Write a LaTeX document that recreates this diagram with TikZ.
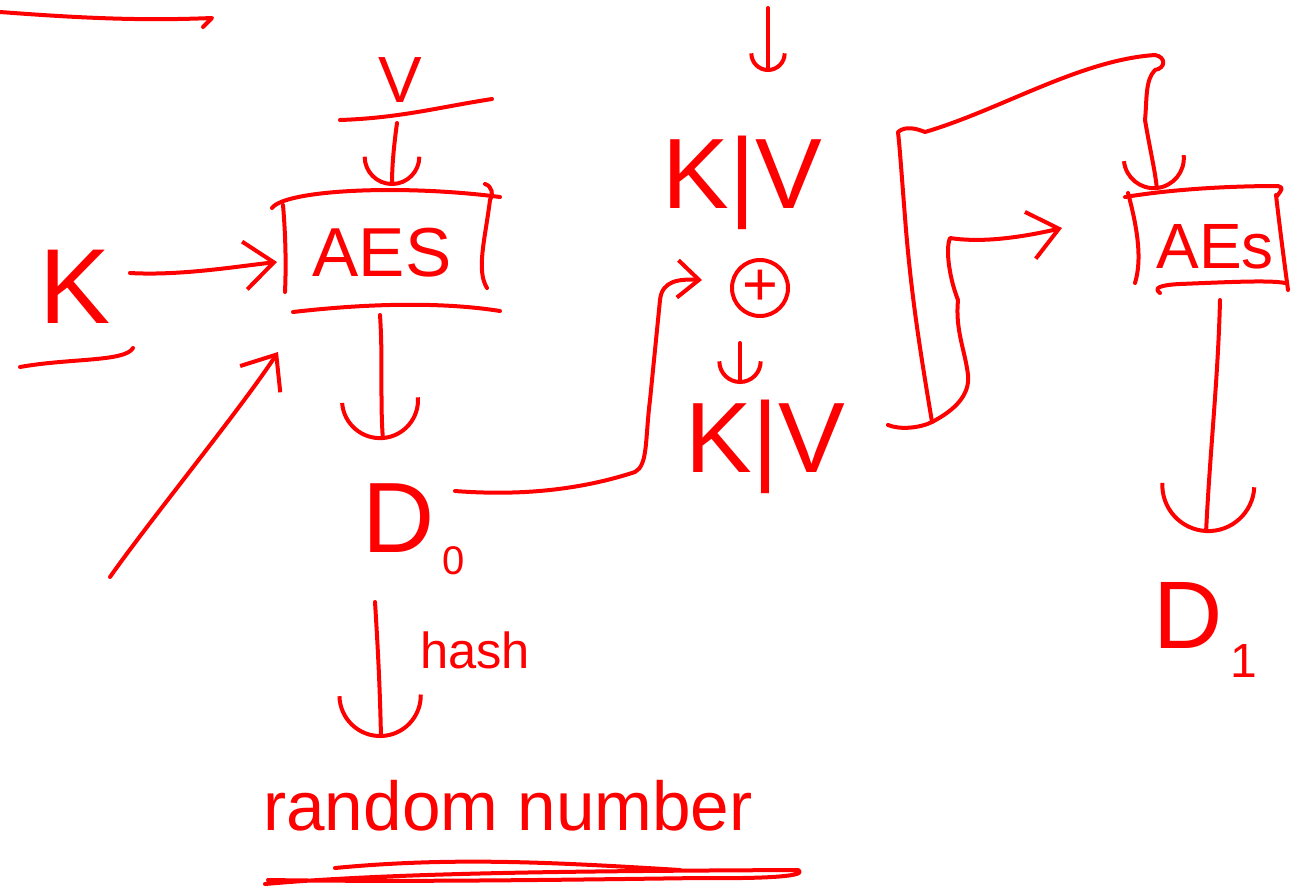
\documentclass[tikz,border=0pt]{standalone}
\usepackage{fontspec}
\setmainfont{Liberation Sans}
\usetikzlibrary{arrows.meta}
\tikzset{
  stroke/.style={draw=red, line width=3pt, line cap=round, line join=round},
  txt/.style={text=red, inner sep=0pt, anchor=base},
  ubarb/.style={-{Arc Barb[length=#1, width=2*#1]}},
  ubarb/.default=24pt,
  vbarb/.style={-{Straight Barb[length=22pt, width=36pt]}},
}
\begin{document}
\begin{tikzpicture}[x=0.75pt, y=-0.75pt]
\useasboundingbox (0,0) rectangle (1298,889);

% ---------- text nodes ----------
\node[txt, font=\fontsize{49}{49}\selectfont] (v) at (400,102) {V};
\node[txt, font=\fontsize{80}{80}\selectfont] (k) at (75,323) {K};
\node[txt, font=\fontsize{52}{52}\selectfont] (aes1) at (382,276) {AES};
\node[txt, font=\fontsize{75}{75}\selectfont] (kvtop) at (742,208) {K|V};
\node[draw=red, line width=3pt, circle, minimum size=42pt, inner sep=0pt, text=red,
      font=\fontsize{46}{46}\selectfont] (xor) at (760,288) {+};
\node[txt, font=\fontsize{75}{75}\selectfont] (kvbot) at (765,472) {K|V};
\node[txt, anchor=base west, font=\fontsize{75}{75}\selectfont] (d0) at (362,552)
  {D\hspace{6pt}\raisebox{-17pt}{\fontsize{30}{30}\selectfont 0}};
\node[txt, anchor=base west, font=\fontsize{38}{38}\selectfont] (hash) at (420,668) {hash};
\node[txt, font=\fontsize{52}{52}\selectfont] (rnd) at (508,830) {random number};
\node[txt, font=\fontsize{48}{48}\selectfont] (aes2) at (1215,268) {AEs};
\node[txt, anchor=base west, font=\fontsize{72}{72}\selectfont] (d1) at (1153,648)
  {D\hspace{6pt}\raisebox{-22pt}{\fontsize{36}{36}\selectfont 1}};

% ---------- named points ----------
\coordinate (vline) at (397,123);
\coordinate (aes1top) at (392,186);
\coordinate (kout) at (130,273);
\coordinate (aes1left) at (277,262);
\coordinate (diagstart) at (110,577);
\coordinate (aes1corner) at (278,352);
\coordinate (aes1bot) at (380,315);
\coordinate (d0top) at (383,440);
\coordinate (d0right) at (455,491);
\coordinate (xorin) at (702,280);
\coordinate (d0bot) at (375,602);
\coordinate (rndtop) at (381,738);
\coordinate (topin) at (768,8);
\coordinate (kvtopin) at (768,72);
\coordinate (xorout) at (740,343);
\coordinate (kvbotin) at (740,384);
\coordinate (kvbotout) at (888,425);
\coordinate (join) at (932,422);
\coordinate (aes2left) at (1062,228);
\coordinate (aes2top) at (1157,190);
\coordinate (aes2bot) at (1220,300);
\coordinate (d1top) at (1206,533);

% ---------- loose strokes ----------
\draw[stroke] (0,12) .. controls (80,18) and (140,21) .. (212,18) -- (203,27);
\draw[stroke] (340,120) .. controls (400,118) and (440,107) .. (492,99);
\draw[stroke] (20,367) .. controls (70,358) and (125,362) .. (133,348);

% AES 1 box
\draw[stroke] (272,208) .. controls (285,190) and (400,184) .. (500,197);
\draw[stroke] (485,184) .. controls (492,186) and (494,195) .. (490,200);
\draw[stroke] (283,205) .. controls (286,240) and (286,270) .. (285,292);
\draw[stroke] (490,200) .. controls (485,240) and (476,270) .. (487,288);
\draw[stroke] (293,312) .. controls (380,302) and (450,303) .. (500,311);

% AES 2 box
\draw[stroke] (1125,197) .. controls (1180,188) and (1240,186) .. (1278,186) .. controls (1283,188) .. (1277,196);
\draw[stroke] (1128,193) .. controls (1138,230) and (1142,260) .. (1135,283);
\draw[stroke] (1276,195) .. controls (1280,230) and (1284,260) .. (1288,290);
\draw[stroke] (1160,293) .. controls (1153,288) and (1160,285) .. (1180,284) .. controls (1230,282) and (1270,280) .. (1285,283);

% underline of "random number"
\draw[stroke] (265,884) .. controls (400,872) and (600,871) .. (798,870) .. controls (806,874) and (790,879) .. (700,878) .. controls (550,880) and (400,882) .. (268,880);
\draw[stroke] (335,868) .. controls (450,857) and (550,862) .. (680,870);

% ---------- connectors ----------
\draw[stroke, ubarb=22pt] (vline) .. controls (394,145) and (392,165) .. (aes1top);
\draw[stroke, vbarb] (kout) .. controls (180,276) and (240,266) .. (aes1left);
\draw[stroke, vbarb] (diagstart) .. controls (150,520) and (240,410) .. (aes1corner);
\draw[stroke, ubarb=30pt] (aes1bot) .. controls (383,360) and (380,400) .. (d0top);
\draw[stroke, -{Straight Barb[length=16pt, width=28pt]}] (d0right) .. controls (520,496) and (580,490) .. (635,472)
   .. controls (648,465) and (645,440) .. (650,400) -- (660,300) .. controls (662,280) and (680,279) .. (xorin);
\draw[stroke, ubarb=32pt] (d0bot) .. controls (378,650) and (380,690) .. (rndtop);
\draw[stroke, ubarb=14pt] (topin) -- (kvtopin);
\draw[stroke, ubarb=17pt] (xorout) -- (kvbotin);
\draw[stroke] (kvbotout) .. controls (900,430) and (920,428) .. (join);
\draw[stroke, vbarb] (join) .. controls (955,410) and (970,395) .. (968,375)
   .. controls (965,350) and (955,330) .. (958,300) .. controls (950,280) and (945,250) .. (950,238)
   .. controls (975,242) and (1010,240) .. (aes2left);
\draw[stroke, ubarb=24pt] (join) .. controls (920,350) and (912,300) .. (906,230)
   .. controls (902,180) and (900,150) .. (898,132) .. controls (905,126) and (915,128) .. (925,132)
   .. controls (1000,110) and (1080,60) .. (1155,55) .. controls (1166,57) and (1166,68) .. (1155,70)
   .. controls (1145,80) and (1147,100) .. (1145,120) .. controls (1150,150) and (1155,170) .. (aes2top);
\draw[stroke, ubarb=36pt] (aes2bot) .. controls (1218,380) and (1210,450) .. (d1top);
\end{tikzpicture}
\end{document}
